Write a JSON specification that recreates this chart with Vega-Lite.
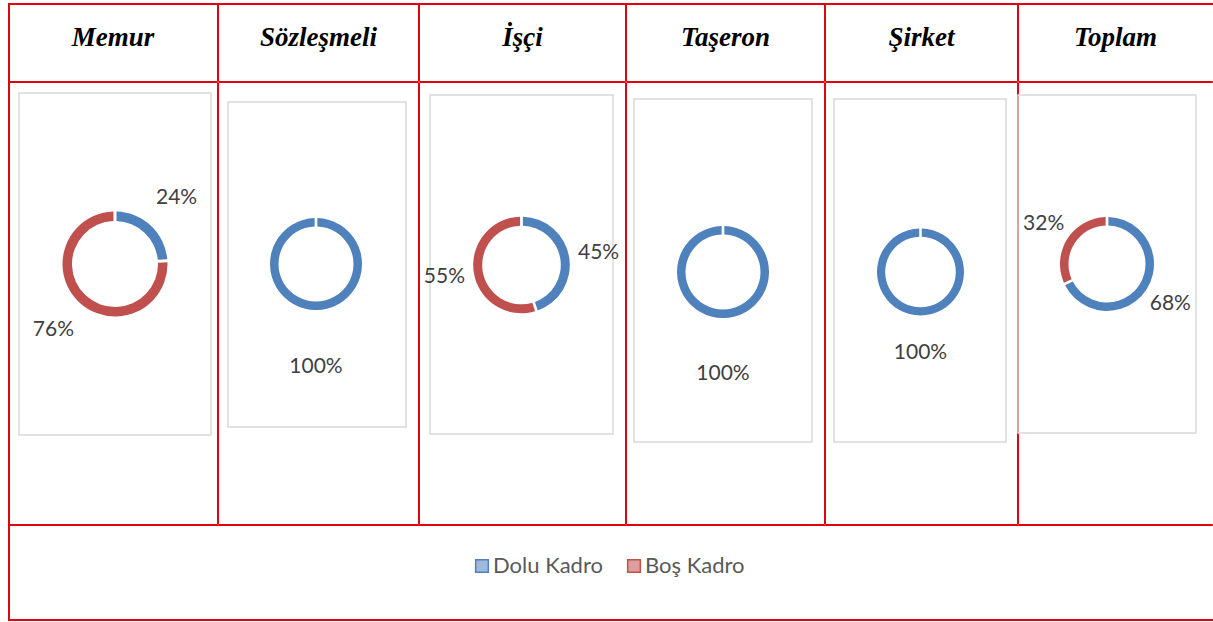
{
  "$schema": "https://vega.github.io/schema/vega-lite/v6.json",
  "padding": {"left": 8, "top": 3, "right": 0, "bottom": 1},
  "background": "white",
  "spacing": 0,
  "config": {
    "view": {"stroke": null},
    "concat": {"spacing": 0},
    "text": {"font": "Lato"}
  },
  "vconcat": [
    {
      "hconcat": [
        {"width": 210, "height": 79, "data": {"values": [{"baslik": "Memur"}]}, "layer": [
          {"mark": {"type": "rect", "x": 0.5, "x2": 209.5, "y": 0.5, "y2": 78.5, "fill": null, "stroke": "#e3000f", "strokeWidth": 1}, "encoding": {}},
          {"mark": {"type": "rect", "x": 0, "x2": 210, "y": 0, "y2": 2, "fill": "#e3000f"}, "encoding": {}},
          {"mark": {"type": "rect", "x": 0, "x2": 2, "y": 0, "y2": 79, "fill": "#e3000f"}, "encoding": {}},
          {"mark": {"type": "text", "font": "Liberation Serif", "fontStyle": "italic", "fontWeight": "bold", "fontSize": 27, "baseline": "alphabetic", "dy": 3, "fill": "black"}, "encoding": {"text": {"field": "baslik"}}}
        ]},
        {"width": 201, "height": 79, "data": {"values": [{"baslik": "Sözleşmeli"}]}, "layer": [
          {"mark": {"type": "rect", "x": 0.5, "x2": 200.5, "y": 0.5, "y2": 78.5, "fill": null, "stroke": "#e3000f", "strokeWidth": 1}, "encoding": {}},
          {"mark": {"type": "rect", "x": 0, "x2": 201, "y": 0, "y2": 2, "fill": "#e3000f"}, "encoding": {}},
          {"mark": {"type": "text", "font": "Liberation Serif", "fontStyle": "italic", "fontWeight": "bold", "fontSize": 27, "baseline": "alphabetic", "dy": 3, "fill": "black"}, "encoding": {"text": {"field": "baslik"}}}
        ]},
        {"width": 207, "height": 79, "data": {"values": [{"baslik": "İşçi"}]}, "layer": [
          {"mark": {"type": "rect", "x": 0.5, "x2": 206.5, "y": 0.5, "y2": 78.5, "fill": null, "stroke": "#e3000f", "strokeWidth": 1}, "encoding": {}},
          {"mark": {"type": "rect", "x": 0, "x2": 207, "y": 0, "y2": 2, "fill": "#e3000f"}, "encoding": {}},
          {"mark": {"type": "text", "font": "Liberation Serif", "fontStyle": "italic", "fontWeight": "bold", "fontSize": 27, "baseline": "alphabetic", "dy": 3, "fill": "black"}, "encoding": {"text": {"field": "baslik"}}}
        ]},
        {"width": 199, "height": 79, "data": {"values": [{"baslik": "Taşeron"}]}, "layer": [
          {"mark": {"type": "rect", "x": 0.5, "x2": 198.5, "y": 0.5, "y2": 78.5, "fill": null, "stroke": "#e3000f", "strokeWidth": 1}, "encoding": {}},
          {"mark": {"type": "rect", "x": 0, "x2": 199, "y": 0, "y2": 2, "fill": "#e3000f"}, "encoding": {}},
          {"mark": {"type": "text", "font": "Liberation Serif", "fontStyle": "italic", "fontWeight": "bold", "fontSize": 27, "baseline": "alphabetic", "dy": 3, "fill": "black"}, "encoding": {"text": {"field": "baslik"}}}
        ]},
        {"width": 193, "height": 79, "data": {"values": [{"baslik": "Şirket"}]}, "layer": [
          {"mark": {"type": "rect", "x": 0.5, "x2": 192.5, "y": 0.5, "y2": 78.5, "fill": null, "stroke": "#e3000f", "strokeWidth": 1}, "encoding": {}},
          {"mark": {"type": "rect", "x": 0, "x2": 193, "y": 0, "y2": 2, "fill": "#e3000f"}, "encoding": {}},
          {"mark": {"type": "text", "font": "Liberation Serif", "fontStyle": "italic", "fontWeight": "bold", "fontSize": 27, "baseline": "alphabetic", "dy": 3, "fill": "black"}, "encoding": {"text": {"field": "baslik"}}}
        ]},
        {"width": 195, "height": 79, "data": {"values": [{"baslik": "Toplam"}]}, "layer": [
          {"mark": {"type": "rect", "x": 0.5, "x2": 194.5, "y": 0.5, "y2": 78.5, "fill": null, "stroke": "#e3000f", "strokeWidth": 1}, "encoding": {}},
          {"mark": {"type": "rect", "x": 0, "x2": 195, "y": 0, "y2": 2, "fill": "#e3000f"}, "encoding": {}},
          {"mark": {"type": "rect", "x": 194, "x2": 195, "y": 2, "y2": 78, "fill": "white"}, "encoding": {}},
          {"mark": {"type": "text", "font": "Liberation Serif", "fontStyle": "italic", "fontWeight": "bold", "fontSize": 27, "baseline": "alphabetic", "dy": 3, "fill": "black"}, "encoding": {"text": {"field": "baslik"}}}
        ]}
      ],
      "spacing": 0,
      "bounds": "flush"
    },
    {
      "hconcat": [
        {
          "width": 210, "height": 443,
          "data": {"values": [
            {"grup": "Memur", "kadro": "Dolu Kadro", "oran": 0.24},
            {"grup": "Memur", "kadro": "Boş Kadro", "oran": 0.76}
          ]},
          "layer": [
            {"data": {"values": [{"grup": "Memur"}]}, "mark": {"type": "rect", "x": 0.5, "x2": 209.5, "y": 0.5, "y2": 442.5, "fill": null, "stroke": "#e3000f", "strokeWidth": 1}, "encoding": {}},
            {"data": {"values": [{"grup": "Memur"}]}, "mark": {"type": "rect", "x": 0, "x2": 2, "y": 0, "y2": 443, "fill": "#e3000f"}, "encoding": {}},
            {"data": {"values": [{"grup": "Memur"}]}, "mark": {"type": "rect", "x": 11, "x2": 203, "y": 11, "y2": 353, "fill": null, "stroke": "#d9d9d9", "strokeWidth": 1.5}, "encoding": {}},
            {"mark": {"type": "arc", "radius": 52.5, "radius2": 43, "padAngle": 0.045, "x": 107, "y": 182},
             "encoding": {
               "theta": {"field": "oran", "type": "quantitative", "stack": "normalize", "scale": {"range": [0, 6.283]}},
               "order": {"field": "kadro", "sort": "descending"},
               "color": {"field": "kadro", "type": "nominal", "title": null,
                 "scale": {"domain": ["Dolu Kadro", "Boş Kadro"], "range": ["#4f81bd", "#c0504d"]},
                 "legend": {"title": null, "orient": "none", "legendX": 463, "legendY": 552, "direction": "horizontal",
                   "symbolType": "square", "symbolSize": 160, "symbolStrokeWidth": 1.5,
                   "labelFont": "Lato", "labelFontSize": 22, "labelColor": "#595959", "labelOffset": 0, "columnPadding": 20,
                   "encode": {"symbols": {"update": {"fillOpacity": {"value": 0.55}, "stroke": {"scale": "color", "field": "value"}}}}}}
             }},
            {"mark": {"type": "text", "radius": 90, "x": 107, "y": 182, "fontSize": 21, "fill": "#404040", "align": "center", "baseline": "middle"},
             "encoding": {
               "theta": {"field": "oran", "type": "quantitative", "stack": "normalize", "scale": {"range": [0, 6.283]}},
               "order": {"field": "kadro", "sort": "descending"},
               "detail": {"field": "kadro"},
               "text": {"field": "oran", "type": "quantitative", "format": ".0%"}
             }}
          ]
        },
        {
          "width": 201, "height": 443,
          "data": {"values": [
            {"grup": "Sözleşmeli", "kadro": "Dolu Kadro", "oran": 1.0}
          ]},
          "layer": [
            {"mark": {"type": "rect", "x": 0.5, "x2": 200.5, "y": 0.5, "y2": 442.5, "fill": null, "stroke": "#e3000f", "strokeWidth": 1}, "encoding": {}},
            {"mark": {"type": "rect", "x": 10, "x2": 188, "y": 20, "y2": 345, "fill": null, "stroke": "#d9d9d9", "strokeWidth": 1.5}, "encoding": {}},
            {"mark": {"type": "arc", "radius": 46, "radius2": 37.5, "padAngle": 0.045, "x": 98, "y": 182},
             "encoding": {
               "theta": {"field": "oran", "type": "quantitative", "stack": "normalize", "scale": {"range": [0, 6.283]}},
               "order": {"field": "kadro", "sort": "descending"},
               "color": {"field": "kadro", "type": "nominal", "title": null, "scale": {"domain": ["Dolu Kadro", "Boş Kadro"], "range": ["#4f81bd", "#c0504d"]}}
             }},
            {"mark": {"type": "text", "radius": 103, "x": 98, "y": 182, "fontSize": 21, "fill": "#404040", "align": "center", "baseline": "middle"},
             "encoding": {
               "theta": {"field": "oran", "type": "quantitative", "stack": "normalize", "scale": {"range": [0, 6.283]}},
               "order": {"field": "kadro", "sort": "descending"},
               "detail": {"field": "kadro"},
               "text": {"field": "oran", "type": "quantitative", "format": ".0%"}
             }}
          ]
        },
        {
          "width": 207, "height": 443,
          "data": {"values": [
            {"grup": "İşçi", "kadro": "Dolu Kadro", "oran": 0.45},
            {"grup": "İşçi", "kadro": "Boş Kadro", "oran": 0.55}
          ]},
          "layer": [
            {"data": {"values": [{"grup": "İşçi"}]}, "mark": {"type": "rect", "x": 0.5, "x2": 206.5, "y": 0.5, "y2": 442.5, "fill": null, "stroke": "#e3000f", "strokeWidth": 1}, "encoding": {}},
            {"data": {"values": [{"grup": "İşçi"}]}, "mark": {"type": "rect", "x": 11, "x2": 194, "y": 13, "y2": 352, "fill": null, "stroke": "#d9d9d9", "strokeWidth": 1.5}, "encoding": {}},
            {"mark": {"type": "arc", "radius": 48.3, "radius2": 39.3, "padAngle": 0.045, "x": 102.5, "y": 183},
             "encoding": {
               "theta": {"field": "oran", "type": "quantitative", "stack": "normalize", "scale": {"range": [0, 6.283]}},
               "order": {"field": "kadro", "sort": "descending"},
               "color": {"field": "kadro", "type": "nominal", "title": null, "scale": {"domain": ["Dolu Kadro", "Boş Kadro"], "range": ["#4f81bd", "#c0504d"]}}
             }},
            {"mark": {"type": "text", "radius": 78, "x": 102.5, "y": 183, "fontSize": 21, "fill": "#404040", "align": "center", "baseline": "middle"},
             "encoding": {
               "theta": {"field": "oran", "type": "quantitative", "stack": "normalize", "scale": {"range": [0, 6.283]}},
               "order": {"field": "kadro", "sort": "descending"},
               "detail": {"field": "kadro"},
               "text": {"field": "oran", "type": "quantitative", "format": ".0%"}
             }}
          ]
        },
        {
          "width": 199, "height": 443,
          "data": {"values": [
            {"grup": "Taşeron", "kadro": "Dolu Kadro", "oran": 1.0}
          ]},
          "layer": [
            {"mark": {"type": "rect", "x": 0.5, "x2": 198.5, "y": 0.5, "y2": 442.5, "fill": null, "stroke": "#e3000f", "strokeWidth": 1}, "encoding": {}},
            {"mark": {"type": "rect", "x": 8, "x2": 186, "y": 17, "y2": 360, "fill": null, "stroke": "#d9d9d9", "strokeWidth": 1.5}, "encoding": {}},
            {"mark": {"type": "arc", "radius": 46, "radius2": 37.5, "padAngle": 0.045, "x": 97, "y": 190},
             "encoding": {
               "theta": {"field": "oran", "type": "quantitative", "stack": "normalize", "scale": {"range": [0, 6.283]}},
               "order": {"field": "kadro", "sort": "descending"},
               "color": {"field": "kadro", "type": "nominal", "title": null, "scale": {"domain": ["Dolu Kadro", "Boş Kadro"], "range": ["#4f81bd", "#c0504d"]}}
             }},
            {"mark": {"type": "text", "radius": 102, "x": 97, "y": 190, "fontSize": 21, "fill": "#404040", "align": "center", "baseline": "middle"},
             "encoding": {
               "theta": {"field": "oran", "type": "quantitative", "stack": "normalize", "scale": {"range": [0, 6.283]}},
               "order": {"field": "kadro", "sort": "descending"},
               "detail": {"field": "kadro"},
               "text": {"field": "oran", "type": "quantitative", "format": ".0%"}
             }}
          ]
        },
        {
          "width": 193, "height": 443,
          "data": {"values": [
            {"grup": "Şirket", "kadro": "Dolu Kadro", "oran": 1.0}
          ]},
          "layer": [
            {"mark": {"type": "rect", "x": 0.5, "x2": 192.5, "y": 0.5, "y2": 442.5, "fill": null, "stroke": "#e3000f", "strokeWidth": 1}, "encoding": {}},
            {"mark": {"type": "rect", "x": 9, "x2": 181, "y": 17, "y2": 360, "fill": null, "stroke": "#d9d9d9", "strokeWidth": 1.5}, "encoding": {}},
            {"mark": {"type": "arc", "radius": 43.5, "radius2": 35.3, "padAngle": 0.045, "x": 95.5, "y": 190},
             "encoding": {
               "theta": {"field": "oran", "type": "quantitative", "stack": "normalize", "scale": {"range": [0, 6.283]}},
               "order": {"field": "kadro", "sort": "descending"},
               "color": {"field": "kadro", "type": "nominal", "title": null, "scale": {"domain": ["Dolu Kadro", "Boş Kadro"], "range": ["#4f81bd", "#c0504d"]}}
             }},
            {"mark": {"type": "text", "radius": 81, "x": 95.5, "y": 190, "fontSize": 21, "fill": "#404040", "align": "center", "baseline": "middle"},
             "encoding": {
               "theta": {"field": "oran", "type": "quantitative", "stack": "normalize", "scale": {"range": [0, 6.283]}},
               "order": {"field": "kadro", "sort": "descending"},
               "detail": {"field": "kadro"},
               "text": {"field": "oran", "type": "quantitative", "format": ".0%"}
             }}
          ]
        },
        {
          "width": 195, "height": 443,
          "data": {"values": [
            {"grup": "Toplam", "kadro": "Dolu Kadro", "oran": 0.68},
            {"grup": "Toplam", "kadro": "Boş Kadro", "oran": 0.32}
          ]},
          "layer": [
            {"data": {"values": [{"grup": "Toplam"}]}, "mark": {"type": "rect", "x": 0.5, "x2": 194.5, "y": 0.5, "y2": 442.5, "fill": null, "stroke": "#e3000f", "strokeWidth": 1}, "encoding": {}},
            {"data": {"values": [{"grup": "Toplam"}]}, "mark": {"type": "rect", "x": 194, "x2": 195, "y": 1, "y2": 442, "fill": "white"}, "encoding": {}},
            {"data": {"values": [{"grup": "Toplam"}]}, "mark": {"type": "rect", "x": 0, "x2": 178, "y": 13, "y2": 351, "fill": null, "stroke": "#d9d9d9", "strokeWidth": 1.5}, "encoding": {}},
            {"mark": {"type": "arc", "radius": 47, "radius2": 38.5, "padAngle": 0.045, "x": 89, "y": 182},
             "encoding": {
               "theta": {"field": "oran", "type": "quantitative", "stack": "normalize", "scale": {"range": [0, 6.283]}},
               "order": {"field": "kadro", "sort": "descending"},
               "color": {"field": "kadro", "type": "nominal", "title": null, "scale": {"domain": ["Dolu Kadro", "Boş Kadro"], "range": ["#4f81bd", "#c0504d"]}}
             }},
            {"mark": {"type": "text", "radius": 75, "x": 89, "y": 182, "fontSize": 21, "fill": "#404040", "align": "center", "baseline": "middle"},
             "encoding": {
               "theta": {"field": "oran", "type": "quantitative", "stack": "normalize", "scale": {"range": [0, 6.283]}},
               "order": {"field": "kadro", "sort": "descending"},
               "detail": {"field": "kadro"},
               "text": {"field": "oran", "type": "quantitative", "format": ".0%"}
             }}
          ]
        }
      ],
      "spacing": 0,
      "bounds": "flush"
    },
    {
      "width": 1205, "height": 96,
      "data": {"values": [{"bos": ""}]},
      "layer": [
        {"mark": {"type": "rect", "x": 0.5, "x2": 1204.5, "y": 0.5, "y2": 95.5, "fill": null, "stroke": "#e3000f", "strokeWidth": 1}, "encoding": {}},
        {"mark": {"type": "rect", "x": 1204, "x2": 1205, "y": 1, "y2": 94, "fill": "white"}, "encoding": {}},
        {"mark": {"type": "rect", "x": 0, "x2": 2, "y": 0, "y2": 96, "fill": "#e3000f"}, "encoding": {}},
        {"mark": {"type": "rect", "x": 0, "x2": 1205, "y": 94, "y2": 96, "fill": "#e3000f"}, "encoding": {}}
      ]
    }
  ]
}
